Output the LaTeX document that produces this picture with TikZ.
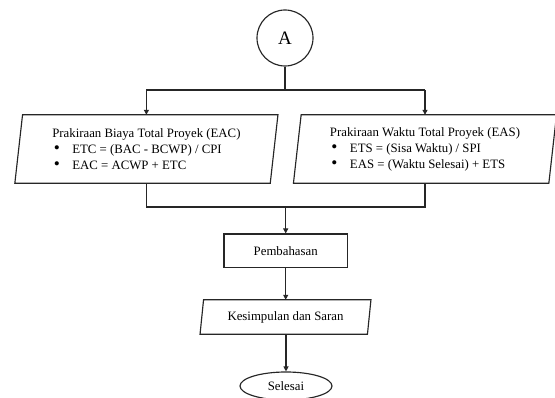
\documentclass[tikz,border=0pt]{standalone}
\usepackage{fontspec}
\setmainfont{Liberation Serif}
\usetikzlibrary{arrows.meta,calc,shapes.geometric}
\newcommand{\mybul}{\makebox[20pt][l]{\hspace{1.5pt}\smash{\raisebox{-0.6pt}{\scalebox{1.35}{•}}}}}
\begin{document}
\begin{tikzpicture}[x=1pt,y=-1pt,
  line/.style={line width=1.15pt,draw=black!85},
  arr/.style={line,-{Triangle[length=5pt,width=5pt]}},
  txt/.style={font=\fontsize{12.8}{16}\selectfont, inner sep=0pt},
  ]
\useasboundingbox (0,0) rectangle (555,398);
% nodes
\node[line, circle, minimum size=56, inner sep=0pt, font=\fontsize{19}{19}\selectfont] (A) at (285,38) {A};
\node[txt, minimum width=255, minimum height=68, align=left] (L) at (146.4,149)
  {Prakiraan Biaya Total Proyek (EAC)\\
   \mybul ETC = (BAC - BCWP) / CPI\\
   \mybul EAC = ACWP + ETC};
\node[txt, minimum width=255, minimum height=68, align=left] (R) at (425,149)
  {Prakiraan Waktu Total Proyek (EAS)\\
   \mybul ETS = (Sisa Waktu) / SPI\\
   \mybul EAS = (Waktu Selesai) + ETS};
\node[txt, line, draw, minimum width=123.3, minimum height=33.7] (P) at (285.7,250.85) {Pembahasan};
\node[txt, minimum width=167, minimum height=34] (K) at (285.5,317) {Kesimpulan dan Saran};
\node[txt, line, draw, ellipse, minimum width=92, minimum height=28] (S) at (286,386) {Selesai};
% parallelogram outlines
\draw[line] ($(L.north west)+(3.85,0)$) -- ($(L.north east)+(3.85,0)$) -- ($(L.south east)+(-3.85,0)$) -- ($(L.south west)+(-3.85,0)$) -- cycle;
\draw[line] ($(R.north west)+(3.85,0)$) -- ($(R.north east)+(3.85,0)$) -- ($(R.south east)+(-3.85,0)$) -- ($(R.south west)+(-3.85,0)$) -- cycle;
\draw[line] ($(K.north west)+(1.75,0)$) -- ($(K.north east)+(1.75,0)$) -- ($(K.south east)+(-1.75,0)$) -- ($(K.south west)+(-1.75,0)$) -- cycle;
% connectors
\coordinate (split) at (285,90);
\coordinate (mrow) at (0,207);
\draw[line] (A.south) -- (split);
\draw[line] (L.north |- split) -- (R.north |- split);
\draw[arr] (L.north |- split) -- (L.north);
\draw[arr] (R.north |- split) -- (R.north);
\draw[line] (L.south) -- (L.south |- mrow) -- (R.south |- mrow) -- (R.south);
\draw[arr] (P.north |- mrow) -- (P.north);
\draw[arr] (P.south) -- (P.south |- K.north);
\draw[arr] (S.north |- K.south) -- (S.north);
\end{tikzpicture}
\end{document}
